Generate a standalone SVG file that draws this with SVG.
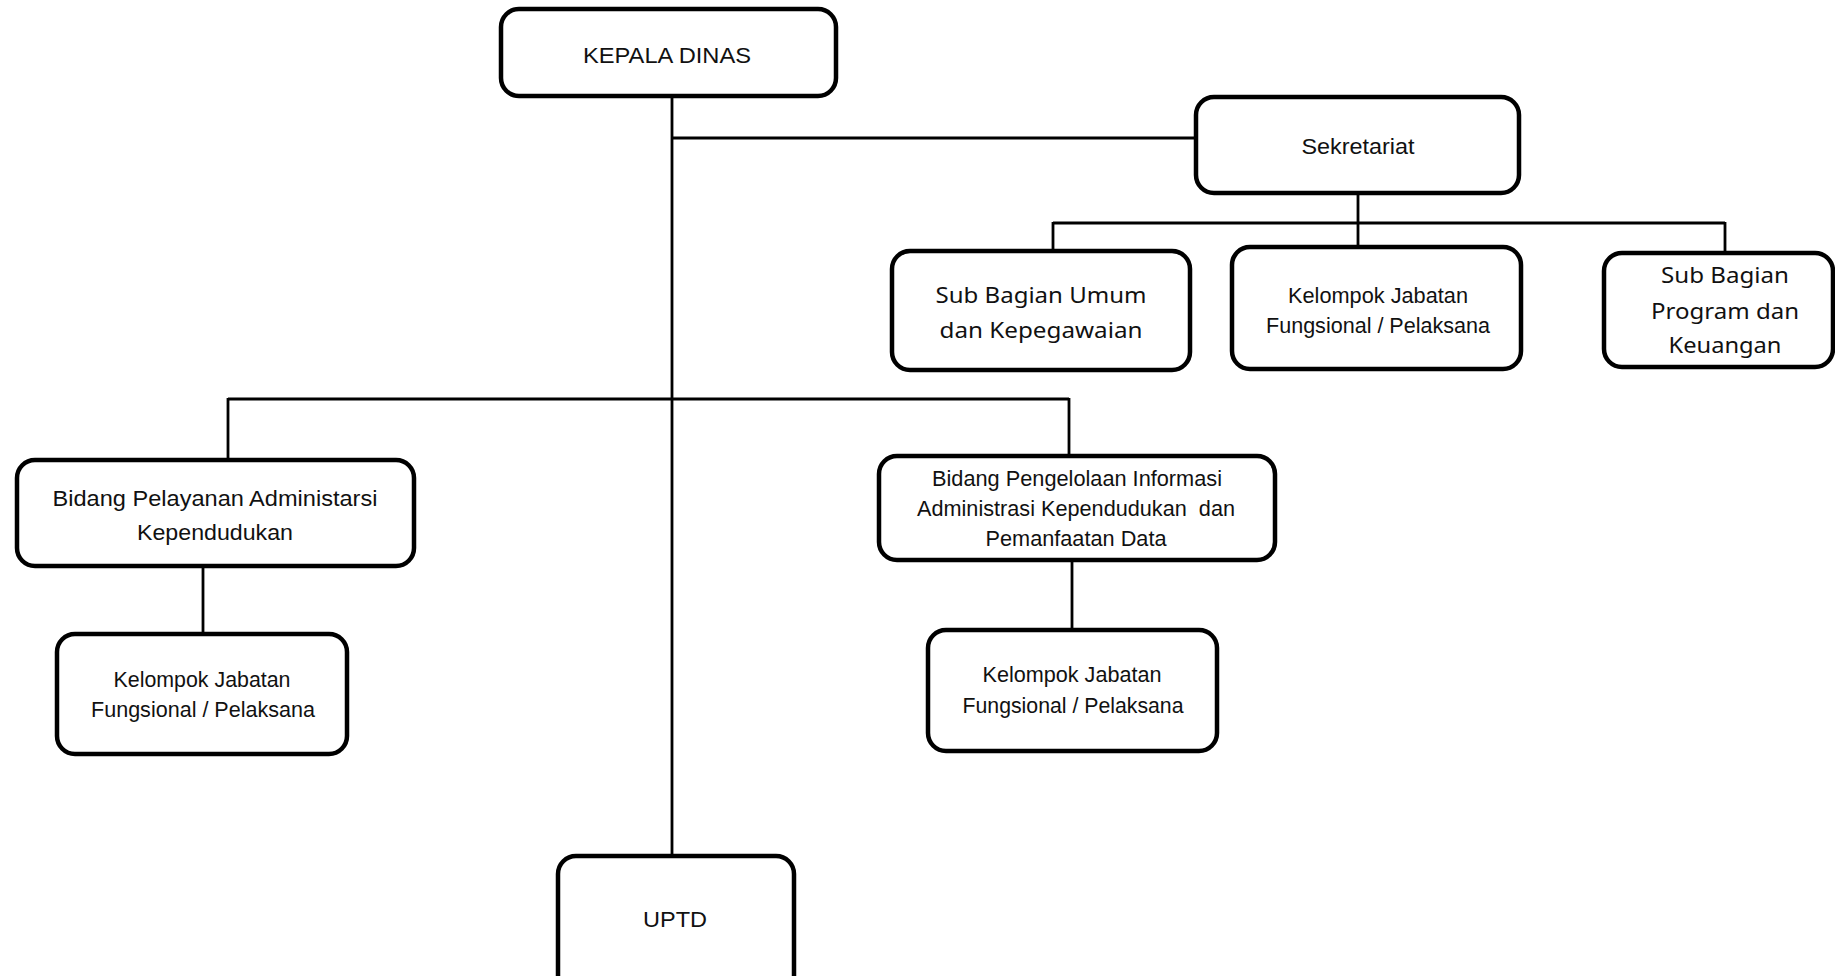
<svg xmlns="http://www.w3.org/2000/svg" width="1835" height="976" viewBox="0 0 1835 976">
<style>
.box{fill:#fff;stroke:#000;stroke-width:4.5}
.ln{stroke:#000;stroke-width:2.8;fill:none}
.t{font-family:"Liberation Sans",Arial,sans-serif;font-size:22px;fill:#111;text-anchor:middle}
.c{font-family:"Noto Sans","Open Sans",sans-serif;font-size:22px;fill:#111;text-anchor:middle}
</style>
<rect width="1835" height="976" fill="#fff"/>
<g id="connectors">
<line class="ln" x1="672" y1="95" x2="672" y2="856"/>
<line class="ln" x1="672" y1="138" x2="1196" y2="138"/>
<line class="ln" x1="1358" y1="193" x2="1358" y2="247"/>
<line class="ln" x1="1053" y1="223" x2="1725" y2="223"/>
<line class="ln" x1="1053" y1="222" x2="1053" y2="251"/>
<line class="ln" x1="1725" y1="222" x2="1725" y2="253"/>
<line class="ln" x1="228" y1="399" x2="1069" y2="399"/>
<line class="ln" x1="228" y1="398" x2="228" y2="460"/>
<line class="ln" x1="1069" y1="398" x2="1069" y2="456"/>
<line class="ln" x1="203" y1="566" x2="203" y2="634"/>
<line class="ln" x1="1072" y1="560" x2="1072" y2="630"/>
</g>
<g id="kepala-dinas">
<rect class="box" x="501" y="9" width="335" height="87" rx="18"/>
<text class="t" x="667" y="63" font-size="24" textLength="168" lengthAdjust="spacingAndGlyphs">KEPALA DINAS</text>
</g>
<g id="sekretariat">
<rect class="box" x="1196" y="97" width="323" height="96" rx="18"/>
<text class="t" x="1358" y="154" font-size="25" textLength="113" lengthAdjust="spacingAndGlyphs">Sekretariat</text>
</g>
<g id="sub-bagian-umum">
<rect class="box" x="892" y="251" width="298" height="119" rx="18"/>
<text class="c" x="1041" y="303" font-size="23" textLength="211" lengthAdjust="spacingAndGlyphs">Sub Bagian Umum</text>
<text class="c" x="1041" y="338" font-size="23" textLength="203" lengthAdjust="spacingAndGlyphs">dan Kepegawaian</text>
</g>
<g id="kelompok-sekretariat">
<rect class="box" x="1232" y="247" width="289" height="122" rx="18"/>
<text class="t" x="1378" y="303" textLength="180" lengthAdjust="spacingAndGlyphs">Kelompok Jabatan</text>
<text class="t" x="1378" y="333" textLength="224" lengthAdjust="spacingAndGlyphs">Fungsional / Pelaksana</text>
</g>
<g id="sub-bagian-program">
<rect class="box" x="1604" y="253" width="229" height="114" rx="18"/>
<text class="c" x="1725" y="283" font-size="23" textLength="128" lengthAdjust="spacingAndGlyphs">Sub Bagian</text>
<text class="c" x="1725" y="319" font-size="23" textLength="148" lengthAdjust="spacingAndGlyphs">Program dan</text>
<text class="c" x="1725" y="353" font-size="23" textLength="113" lengthAdjust="spacingAndGlyphs">Keuangan</text>
</g>
<g id="bidang-pelayanan">
<rect class="box" x="17" y="460" width="397" height="106" rx="18"/>
<text class="t" x="215" y="506" font-size="24" textLength="325" lengthAdjust="spacingAndGlyphs">Bidang Pelayanan Administarsi</text>
<text class="t" x="215" y="540" font-size="24" textLength="156" lengthAdjust="spacingAndGlyphs">Kependudukan</text>
</g>
<g id="kelompok-pelayanan">
<rect class="box" x="57" y="634" width="290" height="120" rx="18"/>
<text class="t" x="202" y="687" textLength="177" lengthAdjust="spacingAndGlyphs">Kelompok Jabatan</text>
<text class="t" x="203" y="717" textLength="224" lengthAdjust="spacingAndGlyphs">Fungsional / Pelaksana</text>
</g>
<g id="bidang-pengelolaan">
<rect class="box" x="879" y="456" width="396" height="104" rx="18"/>
<text class="t" x="1077" y="486" textLength="290" lengthAdjust="spacingAndGlyphs">Bidang Pengelolaan Informasi</text>
<text class="t" x="1076" y="516" textLength="318" lengthAdjust="spacingAndGlyphs" xml:space="preserve">Administrasi Kependudukan  dan</text>
<text class="t" x="1076" y="546" textLength="181" lengthAdjust="spacingAndGlyphs">Pemanfaatan Data</text>
</g>
<g id="kelompok-pengelolaan">
<rect class="box" x="928" y="630" width="289" height="121" rx="18"/>
<text class="t" x="1072" y="682" textLength="179" lengthAdjust="spacingAndGlyphs">Kelompok Jabatan</text>
<text class="t" x="1073" y="713" textLength="221" lengthAdjust="spacingAndGlyphs">Fungsional / Pelaksana</text>
</g>
<g id="uptd">
<rect class="box" x="558" y="856" width="236" height="140" rx="18"/>
<text class="t" x="675" y="927" font-size="25" textLength="64" lengthAdjust="spacingAndGlyphs">UPTD</text>
</g>
</svg>
